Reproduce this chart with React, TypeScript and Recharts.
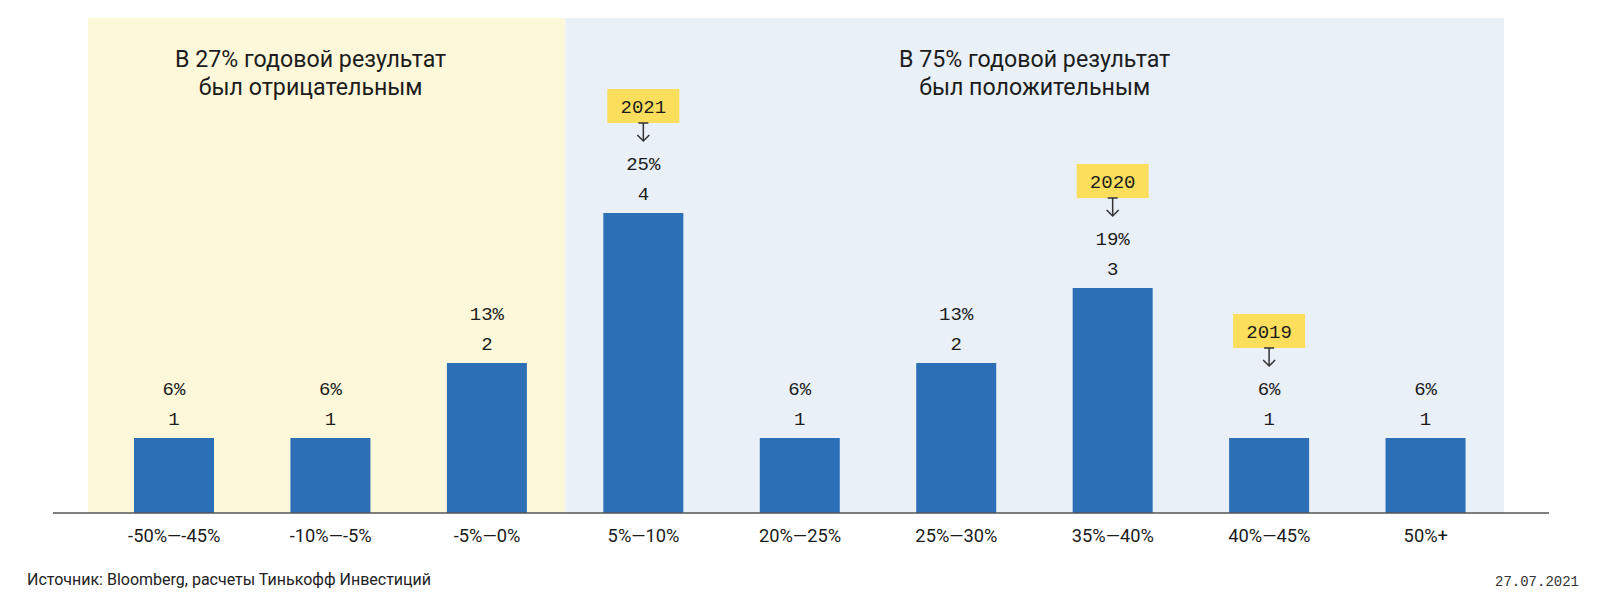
import { BarChart, Bar, XAxis, YAxis, ReferenceArea, LabelList } from "recharts";

const categories = ["-50%—-45%", "-10%—-5%", "-5%—0%", "5%—10%", "20%—25%", "25%—30%", "35%—40%", "40%—45%", "50%+"];
const counts = [1, 1, 2, 4, 1, 2, 3, 1, 1];
const shares = ["6%", "6%", "13%", "25%", "6%", "13%", "19%", "6%", "6%"];
const years = ["", "", "", "2021", "", "", "2020", "2019", ""];

const leftHeading = ["В 27% годовой результат", "был отрицательным"];
const rightHeading = ["В 75% годовой результат", "был положительным"];

const data = categories.map((c, i) => ({ range: c, count: counts[i], share: shares[i], year: years[i] }));

const ink = "#1c1c1c";
const sans = "Roboto, 'Noto Sans', sans-serif";
const mono = "'Liberation Mono', 'DejaVu Sans Mono', monospace";

const heading = (lines: string[], dx: number) => (props: any) => {
  const { viewBox } = props;
  const cx = viewBox.x + viewBox.width / 2 + dx;
  return (
    <text x={cx} y={viewBox.y} textAnchor="middle" fill={ink} fontFamily={sans} fontSize={23.2}>
      <tspan x={cx} dy={49}>{lines[0]}</tspan>
      <tspan x={cx} dy={28}>{lines[1]}</tspan>
    </text>
  );
};

const BarLabels = (props: any) => {
  const { x, y, width, index } = props;
  const cx = x + width / 2;
  const year = years[index];
  return (
    <g>
      <text x={cx} y={y - 13.5} textAnchor="middle" fill={ink} fontFamily={mono} fontSize={19}>
        {counts[index]}
      </text>
      <text x={cx} y={y - 43.5} textAnchor="middle" fill={ink} fontFamily={mono} fontSize={19}>
        {shares[index]}
      </text>
      {year && (
        <g>
          <rect x={cx - 36} y={y - 124} width={72} height={34} fill="#fbdf5c" />
          <text x={cx} y={y - 100.5} textAnchor="middle" fill={ink} fontFamily={mono} fontSize={19}>
            {year}
          </text>
          <g stroke="#333" strokeWidth={1.5} fill="none">
            <line x1={cx - 5} y1={y - 90} x2={cx + 5} y2={y - 90} />
            <line x1={cx} y1={y - 90} x2={cx} y2={y - 72} />
            <polyline points={`${cx - 6},${y - 78} ${cx},${y - 72} ${cx + 6},${y - 78}`} />
          </g>
        </g>
      )}
    </g>
  );
};

const Tick = (props: any) => {
  const { x, y, payload } = props;
  return (
    <text x={x} y={y + 29} textAnchor="middle" fill={ink} fontFamily={sans} fontSize={18.3}>
      {payload.value}
    </text>
  );
};

const App = () => {
  return (
    <div style={{ position: "relative", width: 1600, height: 598, background: "#fff" }}>
      <style>{`body{margin:0}`}</style>
      <BarChart width={1600} height={598} data={data} margin={{ top: 18, right: 51, left: 53, bottom: 0 }}>
        <ReferenceArea
          x1={categories[0]}
          x2={categories[2]}
          fill="#fef8da"
          fillOpacity={1}
          stroke="none"
          shape={(p: any) => <rect x={p.x - 8} y={p.y} width={p.width + 8} height={p.height} fill="#fef8da" />}
          label={{ content: heading(leftHeading, -20) }}
        />
        <ReferenceArea
          x1={categories[3]}
          x2={categories[8]}
          fill="#e9f0f8"
          fillOpacity={1}
          stroke="none"
          label={{ content: heading(rightHeading, 0) }}
        />
        <XAxis
          dataKey="range"
          height={85}
          padding={{ left: 43, right: 45 }}
          tickLine={false}
          tickSize={0}
          tickMargin={0}
          axisLine={{ stroke: "#555", strokeWidth: 1.5 }}
          tick={<Tick />}
          interval={0}
        />
        <YAxis hide domain={[0, 6.6]} />
        <Bar dataKey="count" fill="#2c6fb7" barSize={80} isAnimationActive={false}>
          <LabelList dataKey="count" content={<BarLabels />} />
        </Bar>
      </BarChart>
      <div style={{ position: "absolute", left: 27, top: 571, fontFamily: sans, fontSize: 16, color: "#222", lineHeight: "18px" }}>
        Источник: Bloomberg, расчеты Тинькофф Инвестиций
      </div>
      <div style={{ position: "absolute", right: 21, top: 573, fontFamily: mono, fontSize: 14, color: "#333", lineHeight: "18px" }}>
        27.07.2021
      </div>
    </div>
  );
};

export default App;
